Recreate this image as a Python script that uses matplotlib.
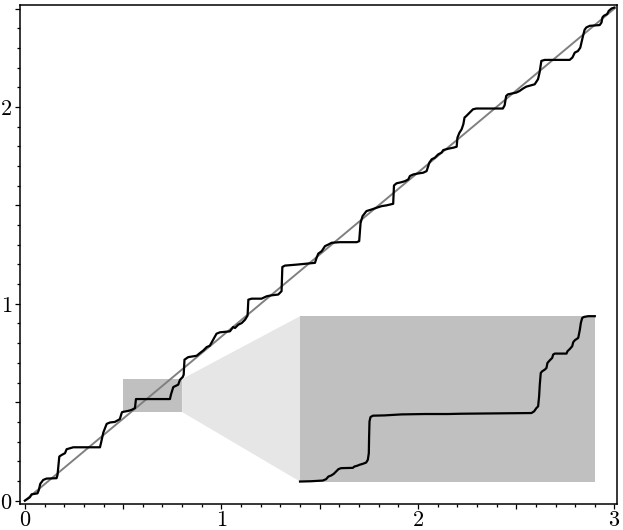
import numpy as np
import matplotlib
matplotlib.use("Agg")
from matplotlib import pyplot as plt
from matplotlib.patches import Rectangle, Polygon
from matplotlib.ticker import MultipleLocator, FuncFormatter

plt.rcParams['mathtext.fontset'] = 'cm'

# staircase curve
curve_x = [0.000, 0.025, 0.034, 0.064, 0.071, 0.078, 0.093, 0.110, 0.161, 0.166,
           0.175, 0.187, 0.204, 0.212, 0.229, 0.246, 0.382, 0.387, 0.399, 0.416,
           0.433, 0.458, 0.483, 0.492, 0.495, 0.526, 0.543, 0.560, 0.565, 0.738,
           0.743, 0.755, 0.780, 0.789, 0.803, 0.808, 0.812, 0.831, 0.874, 0.891,
           0.908, 0.925, 0.941, 0.958, 0.975, 0.992, 1.043, 1.060, 1.069, 1.086,
           1.103, 1.120, 1.133, 1.137, 1.154, 1.204, 1.230, 1.255, 1.289, 1.306,
           1.310, 1.323, 1.383, 1.433, 1.476, 1.484, 1.493, 1.510, 1.518, 1.527,
           1.544, 1.561, 1.603, 1.688, 1.701, 1.708, 1.718, 1.738, 1.764, 1.790,
           1.815, 1.840, 1.874, 1.878, 1.891, 1.917, 1.934, 1.951, 1.959, 1.976,
           2.001, 2.027, 2.044, 2.058, 2.070, 2.086, 2.103, 2.120, 2.129, 2.155,
           2.180, 2.197, 2.201, 2.211, 2.222, 2.231, 2.237, 2.246, 2.263, 2.280,
           2.297, 2.432, 2.441, 2.449, 2.458, 2.500, 2.517, 2.534, 2.551, 2.594,
           2.611, 2.619, 2.628, 2.645, 2.772, 2.786, 2.798, 2.814, 2.826, 2.840,
           2.848, 2.857, 2.874, 2.925, 2.934, 2.939, 2.946, 2.963, 2.971, 2.985,
           3.000]
curve_y = [0.000, 0.017, 0.032, 0.037, 0.054, 0.085, 0.105, 0.112, 0.114, 0.131,
           0.224, 0.232, 0.241, 0.261, 0.266, 0.271, 0.271, 0.292, 0.346, 0.390,
           0.397, 0.400, 0.414, 0.444, 0.450, 0.456, 0.461, 0.470, 0.516, 0.516,
           0.538, 0.577, 0.589, 0.614, 0.628, 0.640, 0.716, 0.729, 0.736, 0.750,
           0.763, 0.780, 0.787, 0.818, 0.848, 0.855, 0.860, 0.882, 0.877, 0.894,
           0.902, 0.919, 0.940, 1.021, 1.026, 1.026, 1.038, 1.043, 1.047, 1.064,
           1.187, 1.194, 1.199, 1.204, 1.208, 1.233, 1.255, 1.267, 1.279, 1.293,
           1.301, 1.310, 1.313, 1.313, 1.318, 1.411, 1.445, 1.471, 1.479, 1.488,
           1.496, 1.500, 1.508, 1.601, 1.612, 1.618, 1.623, 1.632, 1.649, 1.657,
           1.662, 1.666, 1.674, 1.717, 1.734, 1.742, 1.759, 1.768, 1.781, 1.788,
           1.793, 1.798, 1.844, 1.869, 1.886, 1.912, 1.946, 1.954, 1.971, 1.988,
           1.992, 1.992, 2.008, 2.056, 2.064, 2.073, 2.081, 2.093, 2.103, 2.115,
           2.141, 2.175, 2.234, 2.239, 2.239, 2.251, 2.276, 2.284, 2.301, 2.361,
           2.392, 2.404, 2.412, 2.416, 2.429, 2.455, 2.463, 2.472, 2.488, 2.500,
           2.505]

# the straight reference line
diag_x = [0.0, 3.0]
diag_y = [0.0, 2.5]

# magnified piece of the curve (same data units as the main plot)
zoom_x = [0.5000, 0.5112, 0.5231, 0.5265, 0.5289, 0.5316, 0.5343, 0.5367, 0.5391, 0.5418,
          0.5537, 0.5554, 0.5581, 0.5605, 0.5639, 0.5673, 0.5690, 0.5700, 0.5703, 0.5707,
          0.5717, 0.5741, 0.5860, 0.6030, 0.6267, 0.6505, 0.6641, 0.7355, 0.7382, 0.7406,
          0.7423, 0.7433, 0.7440, 0.7450, 0.7464, 0.7491, 0.7508, 0.7518, 0.7542, 0.7566,
          0.7576, 0.7593, 0.7712, 0.7722, 0.7746, 0.7770, 0.7780, 0.7797, 0.7831, 0.7838,
          0.7848, 0.7858, 0.7872, 0.7892, 0.7933, 0.8000]
zoom_y = [0.4500, 0.4503, 0.4510, 0.4524, 0.4551, 0.4561, 0.4578, 0.4602, 0.4626, 0.4636,
          0.4639, 0.4653, 0.4660, 0.4670, 0.4680, 0.4693, 0.4721, 0.4788, 0.4958, 0.5111,
          0.5155, 0.5169, 0.5172, 0.5182, 0.5186, 0.5186, 0.5189, 0.5196, 0.5213, 0.5247,
          0.5264, 0.5365, 0.5484, 0.5603, 0.5620, 0.5637, 0.5654, 0.5705, 0.5732, 0.5756,
          0.5790, 0.5800, 0.5800, 0.5824, 0.5847, 0.5875, 0.5915, 0.5936, 0.5959, 0.5993,
          0.6044, 0.6112, 0.6163, 0.6173, 0.6180, 0.6180]

# zoom window and where its magnified copy goes
win_x0, win_x1, win_y0, win_y1 = 0.5, 0.8, 0.45, 0.618
box_x0, box_y0, box_w, box_h = 1.4, 0.097, 1.5, 0.84

fig = plt.figure(figsize=(6.23, 5.30), dpi=100)
ax = fig.add_axes([0.0321, 0.0491, 0.9583, 0.9415])
ax.set_xlim(-0.025, 3.013)
ax.set_ylim(-0.017, 2.518)

dark = '#c0c0c0'
light = '#e6e6e6'

ax.add_patch(Rectangle((win_x0, win_y0), win_x1 - win_x0, win_y1 - win_y0,
                       facecolor=dark, edgecolor='none', zorder=1))
ax.add_patch(Polygon([(win_x1, win_y1), (box_x0, box_y0 + box_h),
                      (box_x0, box_y0), (win_x1, win_y0)],
                     closed=True, facecolor=light, edgecolor='none', zorder=1))

ax.plot(diag_x, diag_y, color='#808080', linewidth=1.4, zorder=2)
ax.plot(curve_x, curve_y, color='black', linewidth=1.6, zorder=3)

# magnified inset
axins = ax.inset_axes([box_x0, box_y0, box_w, box_h], transform=ax.transData)
axins.set_facecolor(dark)
axins.set_xlim(win_x0, win_x1)
axins.set_ylim(win_y0, win_y1)
axins.plot(zoom_x, zoom_y, color='black', linewidth=1.6, clip_on=False)
axins.set_xticks([])
axins.set_yticks([])
for s in axins.spines.values():
    s.set_visible(False)

# ticks: long ones every 0.5, short ones every 0.1, labels on integers
def int_label(v, pos):
    if abs(v - round(v)) < 1e-6:
        return r'$%d$' % round(v)
    return ''

for axis in (ax.xaxis, ax.yaxis):
    axis.set_major_locator(MultipleLocator(0.5))
    axis.set_minor_locator(MultipleLocator(0.1))
    axis.set_major_formatter(FuncFormatter(int_label))

ax.tick_params(which='major', direction='out', length=3.6, width=0.9,
               labelsize=16, pad=0.8)
ax.tick_params(which='minor', direction='out', length=2.2, width=0.9)
ax.tick_params(axis='y', pad=2)
for s in ax.spines.values():
    s.set_linewidth(1.1)

plt.savefig("out.png", dpi=100)
